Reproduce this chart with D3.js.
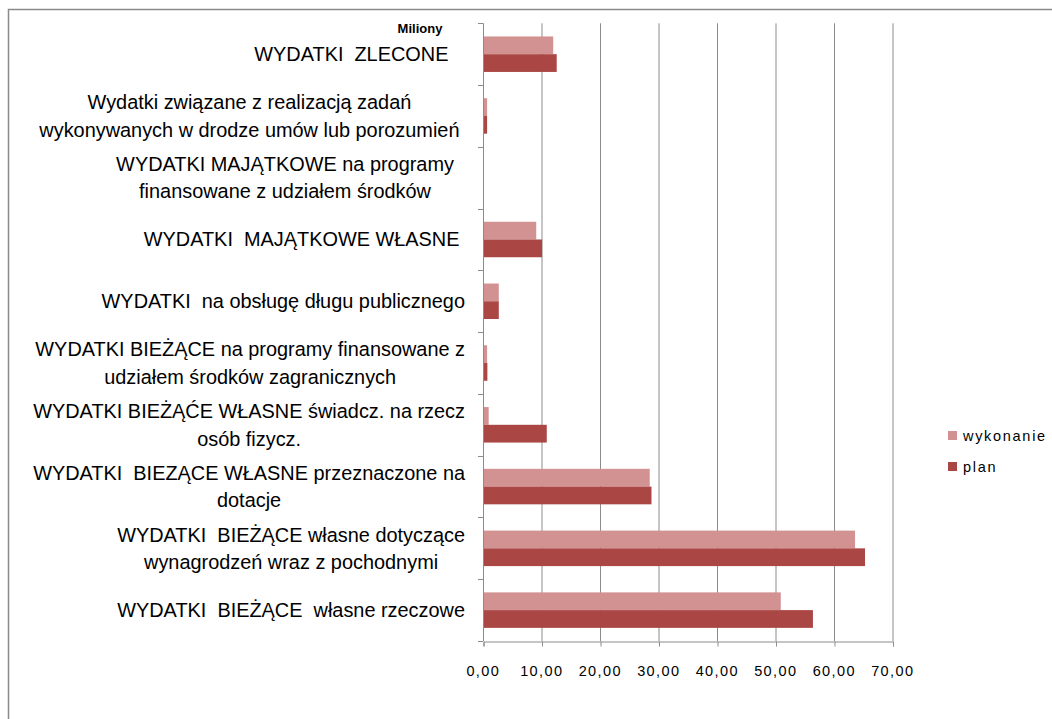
<!DOCTYPE html>
<html><head><meta charset="utf-8">
<script src="https://cdn.jsdelivr.net/npm/d3@7"></script>
<style>body{margin:0;background:#fff;} svg{display:block;}</style>
</head><body>
<svg id="c" width="1052" height="719"></svg>
<script>
const categories = [
  ["WYDATKI  ZLECONE   "],
  ["Wydatki związane z realizacją zadań", "wykonywanych w drodze umów lub porozumień "],
  ["WYDATKI MAJĄTKOWE na programy  ", "finansowane z udziałem środków"],
  ["WYDATKI  MAJĄTKOWE WŁASNE "],
  ["WYDATKI  na obsługę długu publicznego"],
  ["WYDATKI BIEŻĄCE na programy finansowane z", "udziałem środków zagranicznych"],
  ["WYDATKI BIEŻĄĆE WŁASNE świadcz. na rzecz", "osób fizycz."],
  ["WYDATKI  BIEZĄCE WŁASNE przeznaczone na", "dotacje"],
  ["WYDATKI  BIEŻĄCE własne dotyczące", "wynagrodzeń wraz z pochodnymi"],
  ["WYDATKI  BIEŻĄCE  własne rzeczowe"]
];
const wykonanie = [12.0, 0.7, 0, 9.1, 2.7, 0.7, 0.97, 28.5, 63.6, 50.9];
const plan      = [12.6, 0.7, 0, 10.1, 2.7, 0.75, 10.9, 28.8, 65.3, 56.4];
const xTicks = [0, 10, 20, 30, 40, 50, 60, 70];
const seriesNames = ["wykonanie", "plan"];
const colors = ["#D39292", "#AA4644"];

const svg = d3.select("#c");
const FONT = "'Liberation Sans', Arial, sans-serif";

// frame
svg.append("rect").attr("x", 8.5).attr("y", 9.5).attr("width", 1200).attr("height", 900)
  .attr("fill", "none").attr("stroke", "#8a8a8a").attr("stroke-width", 1.5);

const pL = 483, pR = 892.5, pT = 23.3, pB = 641;
const x = d3.scaleLinear().domain([0, 70]).range([pL, pR]);
const y = d3.scaleBand().domain(d3.range(categories.length)).range([pT, pB]).paddingInner(0).paddingOuter(0);
const inner = d3.scaleBand().domain(seriesNames).range([0, y.bandwidth()]).paddingInner(0).paddingOuter(0.74);

// gridlines
svg.append("g").selectAll("line").data(xTicks.slice(1)).join("line")
  .attr("x1", d => x(d) + 0.5).attr("x2", d => x(d) + 0.5)
  .attr("y1", pT).attr("y2", pB)
  .attr("stroke", "#8c8c8c").attr("stroke-width", 1);

// bars
const series = [wykonanie, plan];
series.forEach((vals, si) => {
  svg.append("g").selectAll("rect").data(vals).join("rect")
    .attr("x", x(0))
    .attr("y", (d, i) => y(i) + inner(seriesNames[si]))
    .attr("width", d => x(d) - x(0))
    .attr("height", inner.bandwidth())
    .attr("fill", colors[si]);
});

// x axis
const xa = svg.append("g").attr("transform", `translate(0.5,${pB + 0.5})`)
  .call(d3.axisBottom(x).tickValues(xTicks).tickSize(5).tickPadding(19)
    .tickFormat(d => d3.format(".2f")(d).replace(".", ",")));
xa.select(".domain").attr("stroke", "#8c8c8c");
xa.selectAll(".tick line").attr("stroke", "#8c8c8c");
xa.selectAll("text").attr("font-family", FONT).attr("font-size", 14.5)
  .attr("letter-spacing", 1.4).attr("dx", -0.7).attr("fill", "#000");

// y axis
const yb = d3.range(categories.length + 1).map(i => pT + i * y.bandwidth());
svg.append("line").attr("x1", pL + 0.5).attr("x2", pL + 0.5).attr("y1", pT).attr("y2", pB)
  .attr("stroke", "#8c8c8c");
svg.append("g").selectAll("line").data(yb).join("line")
  .attr("x1", pL - 5).attr("x2", pL).attr("y1", d => Math.round(d) + 0.5).attr("y2", d => Math.round(d) + 0.5)
  .attr("stroke", "#8c8c8c");

// category labels (centred lines, block right-aligned; trailing spaces count for alignment)
const lab = svg.append("g");
const lineH = 27.5, LABEL_R = 465, LFS = 19.9;
const meas = svg.append("text").attr("font-family", FONT).attr("font-size", LFS).style("white-space", "pre");
const fullW = s => { meas.text(s); return meas.node().getComputedTextLength(); };
categories.forEach((lines, i) => {
  const cy = y(i) + y.bandwidth() / 2;
  const g = lab.append("g");
  const info = lines.map(t => ({ t: t.replace(/\s+$/, ""), full: fullW(t), vis: fullW(t.replace(/\s+$/, "")) }));
  const widest = info.reduce((a, b) => (b.vis > a.vis ? b : a));
  const trailing = widest.full - widest.vis;
  const cx = LABEL_R - trailing - widest.vis / 2;
  info.forEach((d, k) => g.append("text")
    .attr("x", cx)
    .attr("y", cy + (k - (lines.length - 1) / 2) * lineH)
    .attr("dy", "0.35em")
    .attr("font-family", FONT).attr("font-size", LFS)
    .attr("text-anchor", "middle")
    .style("white-space", "pre")
    .text(d.t));
});
meas.remove();

// Miliony
svg.append("text").attr("x", 420).attr("y", 28).attr("dy", "0.35em").attr("text-anchor", "middle")
  .attr("font-family", FONT).attr("font-size", 13).attr("font-weight", "bold").text("Miliony");

// legend
const lg = svg.append("g");
seriesNames.forEach((n, i) => {
  const ly = 436 + i * 31;
  lg.append("rect").attr("x", 948).attr("y", ly - 5).attr("width", 9).attr("height", 9).attr("fill", colors[i]);
  lg.append("text").attr("x", 963).attr("y", ly).attr("dy", "0.35em")
    .attr("font-family", FONT).attr("font-size", 14.5).attr("letter-spacing", 1.7).text(n);
});
</script>
</body></html>
